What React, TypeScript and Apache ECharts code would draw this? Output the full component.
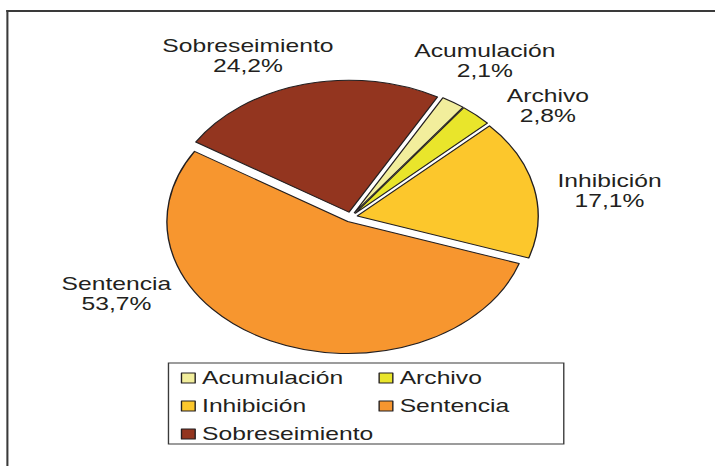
import React, { useEffect, useRef } from 'react';
import * as echarts from 'echarts';

// ---- data ----
const categories = ['Acumulación', 'Archivo', 'Inhibición', 'Sentencia', 'Sobreseimiento'];
const values = [2.1, 2.8, 17.1, 53.7, 24.2];
const colors = ['#f2ee9c', '#e9e52b', '#fcc72c', '#f7962f', '#93351f'];

// ---- layout (un-stretched coordinates; the whole chart is stretched horizontally) ----
const CHART_W = 522;
const CHART_H = 466;
const STRETCH = 715 / CHART_W;
const labelX = [354, 400, 445, 85, 181];
const labelY = [61, 106, 190.5, 294, 56];

const FONT = "'Liberation Sans', Arial, Helvetica, sans-serif";
const INK = '#231f20';

function fmt(v: number) {
  return v.toFixed(1).replace('.', ',') + '%';
}

export default function App() {
  const ref = useRef<HTMLDivElement>(null);
  useEffect(() => {
    const chart = echarts.init(ref.current!, null, { renderer: 'svg' });
    const labelTexts = categories.map((name, i) => ({
      type: 'text',
      x: labelX[i],
      y: labelY[i],
      silent: true,
      style: {
        text: `${name}\n${fmt(values[i])}`,
        fill: INK,
        font: `18px ${FONT}`,
        lineHeight: 20,
        textAlign: 'center',
        textVerticalAlign: 'middle',
      },
    }));
    chart.setOption({
      animation: false,
      backgroundColor: '#ffffff',
      textStyle: { fontFamily: FONT },
      graphic: [
        {
          type: 'line',
          shape: { x1: 4.6, y1: 11, x2: 540, y2: 11 },
          style: { stroke: '#3a3a3a', lineWidth: 2 },
        },
        {
          type: 'line',
          shape: { x1: 5.4, y1: 10, x2: 5.4, y2: 480 },
          style: { stroke: '#3a3a3a', lineWidth: 1.5 },
        },
        ...labelTexts,
      ],
      legend: {
        left: 123,
        top: 363,
        width: 290,
        orient: 'horizontal',
        padding: [6, 1, 1, 9],
        itemGap: 10,
        itemWidth: 10,
        itemHeight: 10,
        borderColor: '#3a3a3a',
        borderWidth: 1,
        icon: 'rect',
        selectedMode: false,
        data: categories,
        itemStyle: { borderColor: INK, borderWidth: 1 },
        textStyle: {
          fontSize: 18,
          lineHeight: 16,
          width: 118.8,
          overflow: 'none',
          color: INK,
          fontFamily: FONT,
        },
      },
      series: [
        {
          type: 'pie',
          center: [256, 217],
          radius: [0, 132],
          startAngle: 60.7,
          clockwise: true,
          selectedMode: 'multiple',
          selectedOffset: 5,
          data: categories.map((name, i) => ({
            name,
            value: values[i],
            selected: true,
            itemStyle: { color: colors[i] },
          })),
          itemStyle: { borderColor: INK, borderWidth: 1 },
          select: { itemStyle: { borderColor: INK, borderWidth: 1 } },
          emphasis: { disabled: true },
          label: { show: false },
          labelLine: { show: false },
        },
      ],
    });
    return () => chart.dispose();
  }, []);

  return (
    <div
      style={{
        position: 'fixed',
        left: 0,
        top: 0,
        width: 715,
        height: 466,
        overflow: 'hidden',
        background: '#fff',
      }}
    >
      <div
        ref={ref}
        style={{
          width: CHART_W,
          height: CHART_H,
          transform: `scaleX(${STRETCH})`,
          transformOrigin: '0 0',
        }}
      />
    </div>
  );
}
